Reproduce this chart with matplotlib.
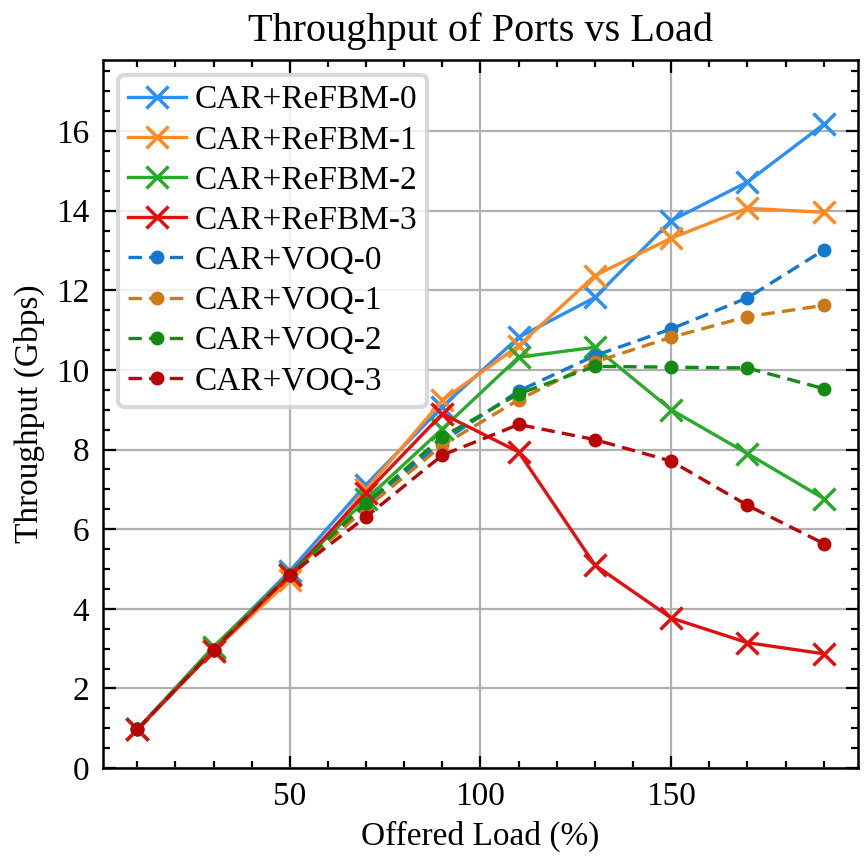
#!/usr/bin/env python3
"""Throughput of ports vs offered load (ReFBM vs VOQ)"""

import matplotlib
matplotlib.use('Agg')
import matplotlib.pyplot as plt
from matplotlib.ticker import AutoMinorLocator

# Offered load (%)
load = [10, 30, 50, 70, 90, 110, 130, 150, 170, 190]

# Throughput (Gbps)
refbm_0 = [0.98, 3.02, 4.95, 7.12, 9.08, 10.82, 11.82, 13.75, 14.72, 16.17]
refbm_1 = [0.97, 2.95, 4.72, 7.00, 9.24, 10.61, 12.37, 13.31, 14.06, 13.96]
refbm_2 = [0.97, 3.05, 4.88, 6.75, 8.52, 10.32, 10.57, 9.00, 7.90, 6.77]
refbm_3 = [0.97, 2.95, 4.85, 6.91, 8.90, 7.94, 5.10, 3.77, 3.15, 2.87]
voq_0 = [0.97, 2.97, 4.86, 6.62, 8.20, 9.47, 10.36, 11.03, 11.81, 13.01]
voq_1 = [0.97, 2.96, 4.84, 6.53, 8.11, 9.25, 10.20, 10.82, 11.34, 11.62]
voq_2 = [0.97, 2.97, 4.86, 6.65, 8.32, 9.40, 10.09, 10.07, 10.05, 9.53]
voq_3 = [0.97, 2.97, 4.85, 6.31, 7.86, 8.63, 8.25, 7.71, 6.60, 5.64]

refbm_series = [refbm_0, refbm_1, refbm_2, refbm_3]
voq_series = [voq_0, voq_1, voq_2, voq_3]
refbm_labels = ['CAR+ReFBM-0', 'CAR+ReFBM-1', 'CAR+ReFBM-2', 'CAR+ReFBM-3']
voq_labels = ['CAR+VOQ-0', 'CAR+VOQ-1', 'CAR+VOQ-2', 'CAR+VOQ-3']

refbm_colors = ['#2a8ff7', '#ff8a24', '#2aaa2a', '#e30f0f']
voq_colors = ['#1478cc', '#cc7a16', '#138a13', '#bb0505']

plt.rcParams['font.family'] = ['Liberation Serif', 'DejaVu Serif']
plt.rcParams['mathtext.fontset'] = 'stix'

fig = plt.figure(figsize=(8.67, 8.59), dpi=100)
ax = fig.add_axes([0.1188, 0.1059, 0.8708, 0.8243])

for ys, lab, col in zip(refbm_series, refbm_labels, refbm_colors):
    ax.plot(load, ys, '-', color=col, label=lab, marker='x',
            markersize=16, markeredgewidth=2.5, linewidth=2.4)

for ys, lab, col in zip(voq_series, voq_labels, voq_colors):
    ax.plot(load, ys, '--', color=col, label=lab, marker='o',
            markersize=9, linewidth=2.4, dashes=(4, 2.2))

ax.set_ylim(0, max(refbm_0) * 1.1)
ax.set_title('Throughput of Ports vs Load', fontsize=29, pad=14)
ax.set_xlabel('Offered Load (%)', fontsize=24, labelpad=6)
ax.set_ylabel('Throughput (Gbps)', fontsize=24, labelpad=8)

ax.xaxis.set_minor_locator(AutoMinorLocator())
ax.yaxis.set_minor_locator(AutoMinorLocator())
ax.tick_params(which='both', direction='in', top=True, right=True,
               labelsize=24, width=1.6)
ax.tick_params(which='major', length=9, pad=10)
ax.tick_params(which='minor', length=5)
for sp in ax.spines.values():
    sp.set_linewidth(1.8)

ax.grid(True, which='major', color='#b0b0b0', linewidth=1.6)
ax.set_axisbelow(True)

leg = ax.legend(loc='upper left', fontsize=24, handlelength=1.75,
                handletextpad=0.25, labelspacing=0.29, borderpad=0.3,
                borderaxespad=0.45, fancybox=True, framealpha=0.8)
leg.get_frame().set_linewidth(3)
leg.get_frame().set_edgecolor('#d0d0d0')

fig.savefig('out.png', dpi=100)
